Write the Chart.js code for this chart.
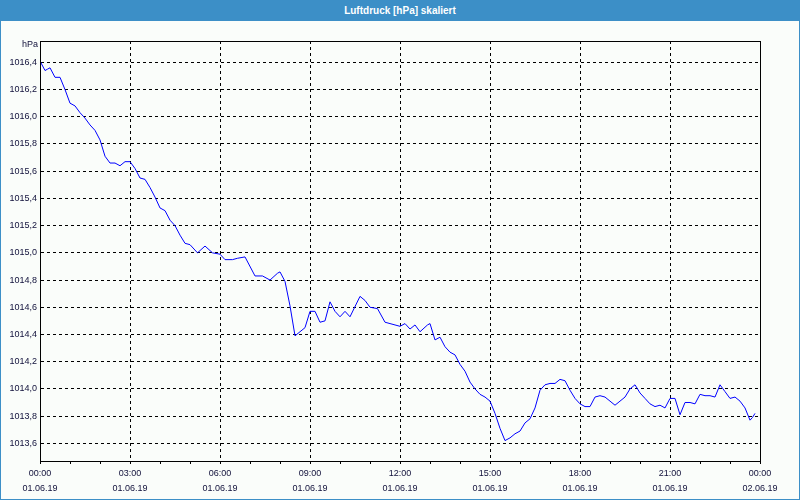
<!DOCTYPE html>
<html>
<head>
<meta charset="utf-8">
<script src="https://cdn.jsdelivr.net/npm/chart.js@4/dist/chart.umd.min.js"></script>
<style>
  html, body { margin: 0; padding: 0; background: #ffffff; }
  #wrap { position: relative; width: 800px; height: 500px; background: #fafdfa; overflow: hidden; }
  #title { position: absolute; left: 0; top: 0; width: 800px; height: 21px; background: #3c8fc7;
           color: #ffffff; font: bold 10px "Liberation Sans", Arial, sans-serif; line-height: 21px;
           text-align: center; z-index: 2; }
  #frame { position: absolute; left: 0; top: 0; width: 800px; height: 500px; box-sizing: border-box;
           border: 1px solid #3c8fc7; z-index: 3; pointer-events: none; }
  canvas { position: absolute; left: 0; top: 0; }
</style>
</head>
<body>
<div id="wrap">
  <div id="title">Luftdruck [hPa] skaliert</div>
  <div id="frame"></div>
  <canvas id="c" width="800" height="500"></canvas>
</div>
<script>
// Minutes since 01.06.19 00:00
const minutes = [0,10,15,20,30,40,50,60,70,80,90,100,110,120,130,140,150,160,170,180,190,200,210,220,230,240,250,260,270,280,290,300,315,330,345,360,370,385,395,410,430,445,460,475,480,490,500,510,520,530,540,550,560,570,580,590,600,610,620,640,650,660,675,690,700,710,720,730,740,750,760,775,780,790,800,810,820,830,840,850,860,870,880,890,900,910,920,930,940,950,960,970,980,990,1000,1010,1020,1030,1040,1050,1060,1070,1080,1090,1100,1110,1120,1130,1140,1150,1160,1170,1180,1190,1200,1210,1220,1230,1240,1250,1260,1270,1280,1290,1300,1310,1320,1330,1340,1350,1360,1370,1380,1390,1400,1410,1420,1425,1430];
// Luftdruck in hPa
const pressure = [1016.41,1016.34,1016.35,1016.36,1016.29,1016.29,1016.20,1016.10,1016.08,1016.03,1015.99,1015.94,1015.90,1015.83,1015.71,1015.66,1015.66,1015.64,1015.67,1015.67,1015.62,1015.55,1015.54,1015.48,1015.41,1015.33,1015.31,1015.24,1015.20,1015.13,1015.07,1015.06,1015.00,1015.05,1015.00,1014.99,1014.95,1014.95,1014.96,1014.97,1014.83,1014.83,1014.80,1014.85,1014.86,1014.79,1014.61,1014.39,1014.42,1014.45,1014.57,1014.57,1014.49,1014.50,1014.64,1014.57,1014.53,1014.57,1014.53,1014.68,1014.65,1014.60,1014.59,1014.49,1014.48,1014.47,1014.46,1014.48,1014.44,1014.47,1014.42,1014.47,1014.48,1014.36,1014.38,1014.31,1014.27,1014.25,1014.18,1014.13,1014.05,1014.00,1013.96,1013.94,1013.91,1013.82,1013.71,1013.62,1013.64,1013.67,1013.69,1013.75,1013.78,1013.86,1013.99,1014.03,1014.04,1014.04,1014.07,1014.06,1013.99,1013.93,1013.89,1013.87,1013.87,1013.94,1013.95,1013.94,1013.91,1013.88,1013.91,1013.94,1014.00,1014.03,1013.97,1013.93,1013.89,1013.87,1013.88,1013.86,1013.93,1013.93,1013.81,1013.90,1013.90,1013.89,1013.96,1013.95,1013.95,1013.94,1014.03,1013.98,1013.93,1013.94,1013.91,1013.86,1013.77,1013.79,1013.82];
// Axis tick labels
const yTicks = [1013.6,1013.8,1014.0,1014.2,1014.4,1014.6,1014.8,1015.0,1015.2,1015.4,1015.6,1015.8,1016.0,1016.2,1016.4];
const xTickTimes = ["00:00","03:00","06:00","09:00","12:00","15:00","18:00","21:00","00:00"];
const xTickDates = ["01.06.19","01.06.19","01.06.19","01.06.19","01.06.19","01.06.19","01.06.19","01.06.19","02.06.19"];
const unitLabel = "hPa";

const labelColor = "#10103a";
const fontFam = "'Liberation Sans', Arial, sans-serif";

const framePlugin = {
  id: 'frame',
  afterDraw(chart) {
    const a = chart.chartArea, ctx = chart.ctx;
    ctx.save();
    ctx.setLineDash([]);
    ctx.strokeStyle = '#000';
    ctx.lineWidth = 1;
    ctx.strokeRect(Math.round(a.left) + 0.5, Math.round(a.top) + 0.5,
                   Math.round(a.right - a.left), Math.round(a.bottom - a.top));
    ctx.fillStyle = labelColor;
    ctx.font = "9px " + fontFam;
    ctx.textAlign = 'right';
    ctx.textBaseline = 'middle';
    ctx.fillText(unitLabel, a.left - 2, a.top + 4);
    ctx.restore();
  }
};

new Chart(document.getElementById('c'), {
  type: 'line',
  data: {
    datasets: [{
      data: minutes.map((m, i) => ({ x: m / 60, y: pressure[i] })),
      borderColor: '#0000ff',
      borderWidth: 1,
      pointRadius: 0,
      tension: 0,
      fill: false
    }]
  },
  options: {
    responsive: false,
    animation: false,
    layout: { padding: { left: 0, top: 41, right: 40, bottom: 0 } },
    plugins: { legend: { display: false }, tooltip: { enabled: false }, title: { display: false } },
    scales: {
      x: {
        type: 'linear',
        min: 0, max: 24,
        afterBuildTicks: axis => { const t = []; for (let h = 0; h <= 24; h++) t.push({ value: h }); axis.ticks = t; },
        afterFit: axis => { axis.height = 39; },
        ticks: {
          autoSkip: false, maxRotation: 0, minRotation: 0, padding: 2,
          color: labelColor,
          font: { family: fontFam, size: 9, lineHeight: 1.65 },
          callback: v => (v % 3 === 0) ? [xTickTimes[v / 3], xTickDates[v / 3]] : ''
        },
        grid: {
          drawOnChartArea: true,
          color: ctx => (ctx.tick && ctx.tick.value % 3 === 0 && ctx.tick.value > 0 && ctx.tick.value < 24) ? '#000' : 'rgba(0,0,0,0)',
          tickLength: 3,
          tickColor: '#000',
          tickBorderDash: [],
          lineWidth: 1
        },
        border: { display: true, color: '#000', width: 1, dash: [3, 3] }
      },
      y: {
        type: 'linear',
        min: 1013.47, max: 1016.557,
        afterBuildTicks: axis => { axis.ticks = yTicks.map(v => ({ value: v })); },
        afterFit: axis => { axis.width = 40; },
        ticks: {
          padding: 3,
          color: labelColor,
          font: { family: fontFam, size: 9 },
          callback: v => v.toFixed(1).replace('.', ',')
        },
        grid: {
          drawTicks: false,
          color: '#000',
          lineWidth: 1
        },
        border: { display: true, color: '#000', width: 1, dash: [3, 3] }
      }
    }
  },
  plugins: [framePlugin]
});
</script>
</body>
</html>
